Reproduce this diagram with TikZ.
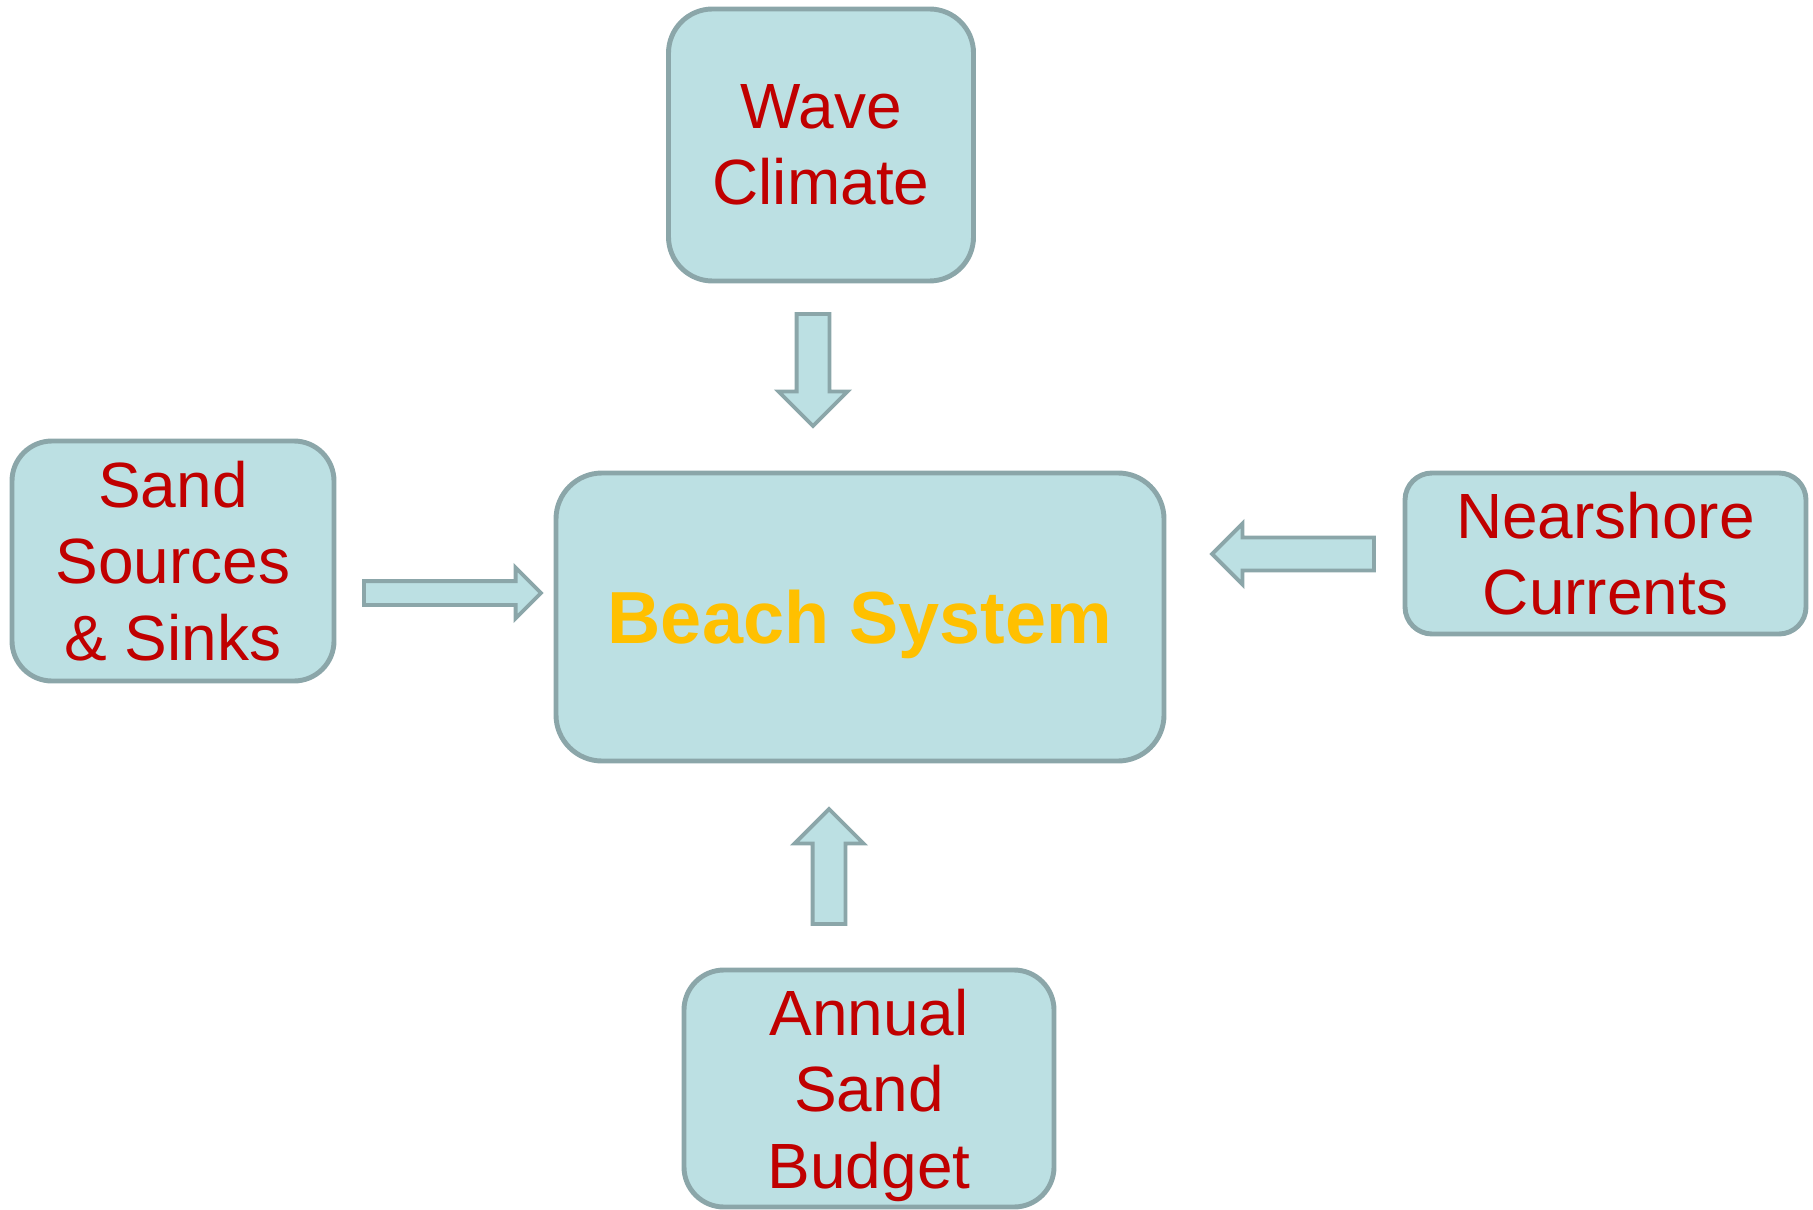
\documentclass[tikz,border=0pt]{standalone}
\usepackage{fontspec}
\setmainfont{Liberation Sans}
\usetikzlibrary{positioning, shapes.arrows}
\definecolor{boxfill}{RGB}{188,224,227}
\definecolor{boxedge}{RGB}{139,166,169}
\definecolor{labred}{RGB}{192,0,0}
\definecolor{beachyel}{RGB}{255,192,0}

\begin{document}
\begin{tikzpicture}[
    box/.style={draw=boxedge, fill=boxfill, line width=1.4pt, rounded corners=0.4cm,
                outer sep=0pt, align=center, text=labred,
                font=\fontsize{18.2pt}{21.8pt}\selectfont},
    blk/.style={single arrow, draw=boxedge, fill=boxfill, line width=1.1pt,
                outer sep=0pt, inner xsep=0pt, anchor=tip},
]
\useasboundingbox (0,0) rectangle (18.13,-12.10);

\node[box, minimum width=6.08cm, minimum height=2.88cm, rounded corners=0.46cm,
      text=beachyel, text depth=0pt, font=\fontsize{21pt}{24pt}\selectfont\bfseries]
    at (8.60,-6.17) (beach) {Beach System};

\node[box, above=1.92cm of beach, xshift=-0.39cm,
      minimum width=3.05cm, minimum height=2.72cm, rounded corners=0.44cm] (wave)
    {Wave\\Climate};
\node[box, left=2.22cm of beach, yshift=0.56cm,
      minimum width=3.22cm, minimum height=2.40cm] (sand)
    {Sand\\Sources\\\& Sinks};
\node[box, right=2.41cm of beach, yshift=0.635cm,
      minimum width=4.01cm, minimum height=1.61cm, rounded corners=0.27cm] (near)
    {Nearshore\\Currents};
\node[box, below=2.09cm of beach, xshift=0.09cm, text depth=0pt,
      minimum width=3.70cm, minimum height=2.37cm] (budget)
    {Annual\\Sand\\Budget};

\node[blk, rotate=-90, minimum height=1.12cm, inner ysep=0.145cm,
      single arrow head extend=0.18cm]
    at ([xshift=-0.47cm, yshift=0.47cm]beach.north) (awave) {};
\node[blk, minimum height=1.77cm, inner ysep=0.10cm,
      single arrow head extend=0.135cm]
    at ([xshift=-0.15cm, yshift=0.24cm]beach.west) (asand) {};
\node[blk, rotate=180, minimum height=1.62cm, inner ysep=0.145cm,
      single arrow head extend=0.14cm]
    at ([xshift=0.48cm, yshift=0.63cm]beach.east) (anear) {};
\node[blk, rotate=90, minimum height=1.15cm, inner ysep=0.145cm,
      single arrow head extend=0.18cm]
    at ([xshift=-0.31cm, yshift=-0.48cm]beach.south) (abudget) {};

\end{tikzpicture}
\end{document}
